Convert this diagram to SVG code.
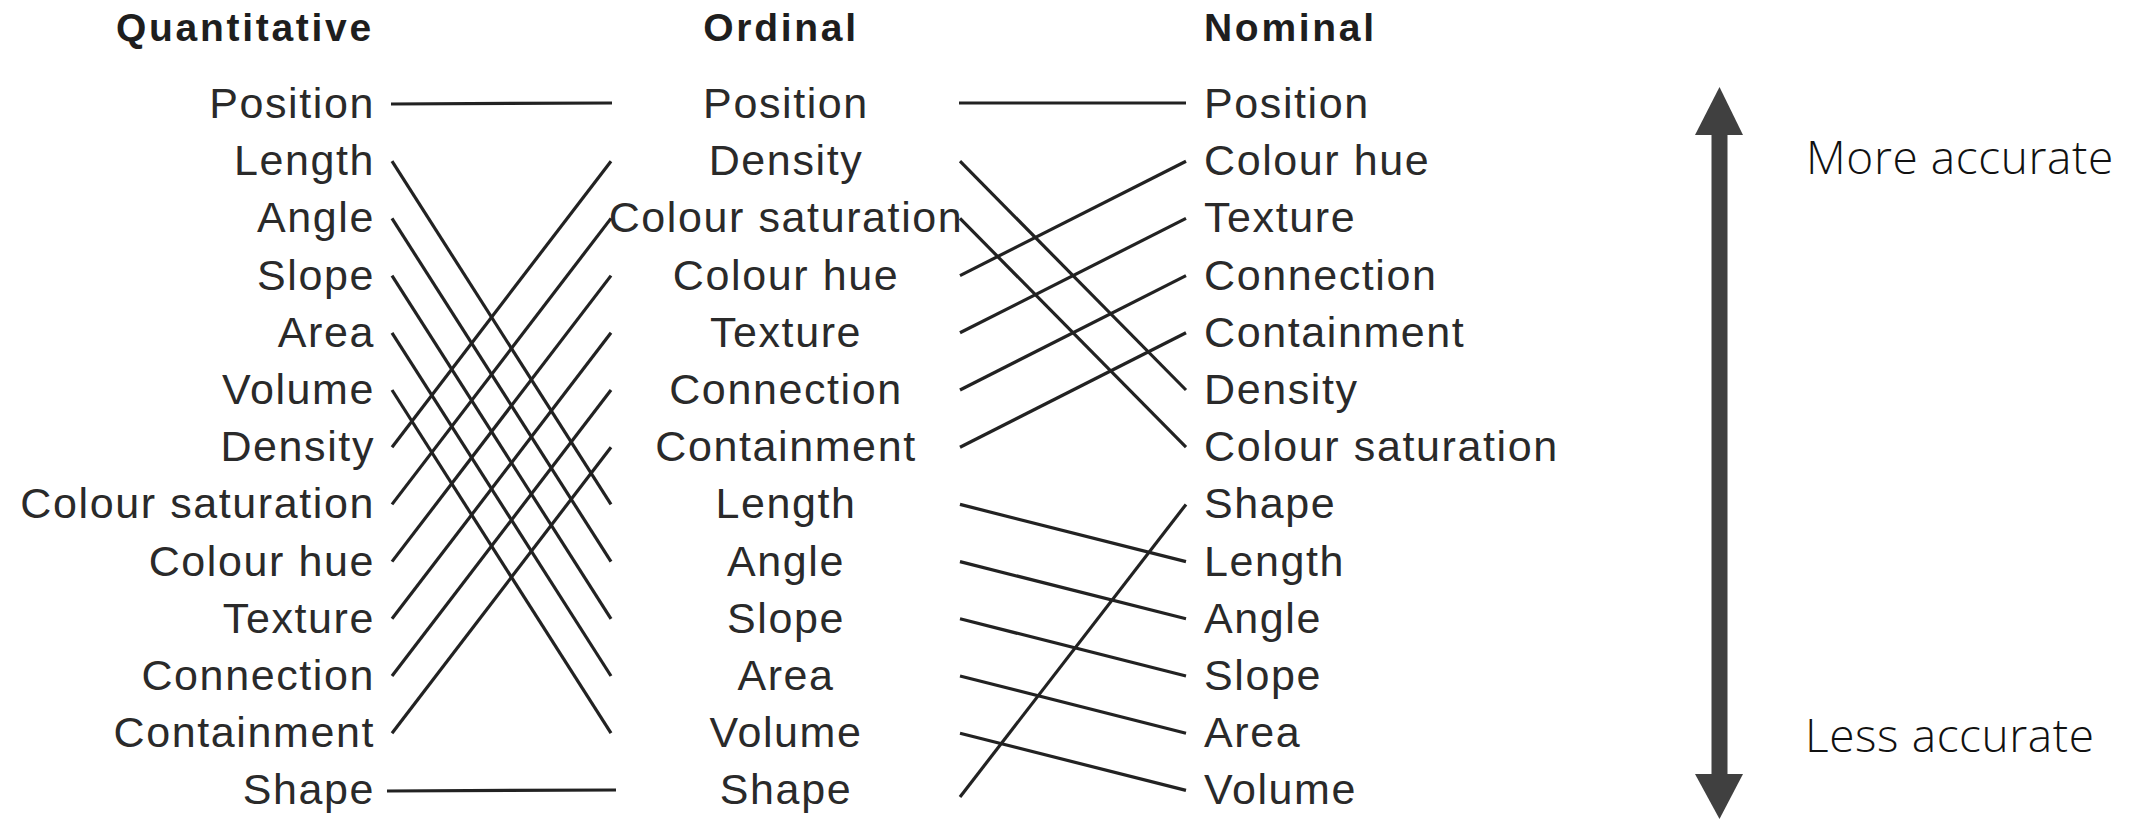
<svg xmlns="http://www.w3.org/2000/svg" width="2131" height="819" viewBox="0 0 2131 819">
<style>
.t{font-family:"Liberation Sans",Arial,sans-serif;font-size:43px;letter-spacing:1.6px;fill:#2a2a2a}
.h{font-family:"Liberation Sans",Arial,sans-serif;font-size:39px;font-weight:bold;letter-spacing:2.7px;fill:#1e1e1e}
.l{text-anchor:end}
.m{text-anchor:middle}
.a{font-family:"Open Sans","Liberation Sans",sans-serif;font-size:46px;font-weight:300;letter-spacing:0.6px;fill:#111}
.c line{stroke:#222;stroke-width:3.2;stroke-linecap:butt}
.arr{fill:#404040}
</style>
<rect width="2131" height="819" fill="#fff"/>
<g id="titles">
<text class="h" x="116" y="41">Quantitative</text>
<text class="h m" x="781" y="41">Ordinal</text>
<text class="h" x="1204" y="41">Nominal</text>
</g>
<g id="quantitative">
<g id="q-position"><text class="t l" x="375" y="118">Position</text></g>
<g id="q-length"><text class="t l" x="375" y="175.2">Length</text></g>
<g id="q-angle"><text class="t l" x="375" y="232.4">Angle</text></g>
<g id="q-slope"><text class="t l" x="375" y="289.6">Slope</text></g>
<g id="q-area"><text class="t l" x="375" y="346.8">Area</text></g>
<g id="q-volume"><text class="t l" x="375" y="404">Volume</text></g>
<g id="q-density"><text class="t l" x="375" y="461.2">Density</text></g>
<g id="q-coloursat"><text class="t l" x="375" y="518.4">Colour saturation</text></g>
<g id="q-colourhue"><text class="t l" x="375" y="575.6">Colour hue</text></g>
<g id="q-texture"><text class="t l" x="375" y="632.8">Texture</text></g>
<g id="q-connection"><text class="t l" x="375" y="690">Connection</text></g>
<g id="q-containment"><text class="t l" x="375" y="747.2">Containment</text></g>
<g id="q-shape"><text class="t l" x="375" y="804.4">Shape</text></g>
</g>
<g id="ordinal">
<g id="o-position"><text class="t m" x="786" y="118">Position</text></g>
<g id="o-density"><text class="t m" x="786" y="175.2">Density</text></g>
<g id="o-coloursat"><text class="t m" x="786" y="232.4">Colour saturation</text></g>
<g id="o-colourhue"><text class="t m" x="786" y="289.6">Colour hue</text></g>
<g id="o-texture"><text class="t m" x="786" y="346.8">Texture</text></g>
<g id="o-connection"><text class="t m" x="786" y="404">Connection</text></g>
<g id="o-containment"><text class="t m" x="786" y="461.2">Containment</text></g>
<g id="o-length"><text class="t m" x="786" y="518.4">Length</text></g>
<g id="o-angle"><text class="t m" x="786" y="575.6">Angle</text></g>
<g id="o-slope"><text class="t m" x="786" y="632.8">Slope</text></g>
<g id="o-area"><text class="t m" x="786" y="690">Area</text></g>
<g id="o-volume"><text class="t m" x="786" y="747.2">Volume</text></g>
<g id="o-shape"><text class="t m" x="786" y="804.4">Shape</text></g>
</g>
<g id="nominal">
<g id="n-position"><text class="t" x="1204" y="118">Position</text></g>
<g id="n-colourhue"><text class="t" x="1204" y="175.2">Colour hue</text></g>
<g id="n-texture"><text class="t" x="1204" y="232.4">Texture</text></g>
<g id="n-connection"><text class="t" x="1204" y="289.6">Connection</text></g>
<g id="n-containment"><text class="t" x="1204" y="346.8">Containment</text></g>
<g id="n-density"><text class="t" x="1204" y="404">Density</text></g>
<g id="n-coloursat"><text class="t" x="1204" y="461.2">Colour saturation</text></g>
<g id="n-shape"><text class="t" x="1204" y="518.4">Shape</text></g>
<g id="n-length"><text class="t" x="1204" y="575.6">Length</text></g>
<g id="n-angle"><text class="t" x="1204" y="632.8">Angle</text></g>
<g id="n-slope"><text class="t" x="1204" y="690">Slope</text></g>
<g id="n-area"><text class="t" x="1204" y="747.2">Area</text></g>
<g id="n-volume"><text class="t" x="1204" y="804.4">Volume</text></g>
</g>
<g id="connectors" class="c">
<line x1="391" y1="104" x2="612" y2="103"/>
<line x1="392" y1="161.2" x2="611" y2="504.4"/>
<line x1="392" y1="218.4" x2="611" y2="561.6"/>
<line x1="392" y1="275.6" x2="611" y2="618.8"/>
<line x1="392" y1="332.8" x2="611" y2="676"/>
<line x1="392" y1="390" x2="611" y2="733.2"/>
<line x1="392" y1="447.2" x2="611" y2="161.2"/>
<line x1="392" y1="504.4" x2="611" y2="218.4"/>
<line x1="392" y1="561.6" x2="611" y2="275.6"/>
<line x1="392" y1="618.8" x2="611" y2="332.8"/>
<line x1="392" y1="676" x2="611" y2="390"/>
<line x1="392" y1="733.2" x2="611" y2="447.2"/>
<line x1="387" y1="791" x2="616" y2="790"/>
<line x1="959" y1="103" x2="1186" y2="103"/>
<line x1="960" y1="161.2" x2="1186" y2="390"/>
<line x1="960" y1="218.4" x2="1186" y2="447.2"/>
<line x1="960" y1="275.6" x2="1186" y2="161.2"/>
<line x1="960" y1="332.8" x2="1186" y2="218.4"/>
<line x1="960" y1="390" x2="1186" y2="275.6"/>
<line x1="960" y1="447.2" x2="1186" y2="332.8"/>
<line x1="960" y1="504.4" x2="1186" y2="561.6"/>
<line x1="960" y1="561.6" x2="1186" y2="618.8"/>
<line x1="960" y1="618.8" x2="1186" y2="676"/>
<line x1="960" y1="676" x2="1186" y2="733.2"/>
<line x1="960" y1="733.2" x2="1186" y2="790.4"/>
<line x1="960" y1="797" x2="1186" y2="504.4"/>
</g>
<g id="accuracy-arrow">
<rect class="arr" x="1711.5" y="133" width="16" height="643"/>
<polygon class="arr" points="1719.5,87 1695,135 1743,135"/>
<polygon class="arr" points="1695,774 1743,774 1719.5,819"/>
</g>
<g id="more-accurate"><text class="a" x="1806" y="174">More accurate</text></g>
<g id="less-accurate"><text class="a" x="1805" y="752">Less accurate</text></g>
</svg>
